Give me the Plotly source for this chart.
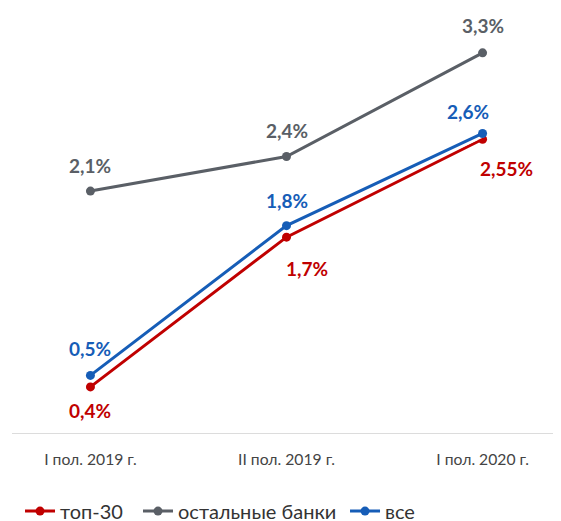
import plotly.graph_objects as go

categories = ["I пол. 2019 г.", "II пол. 2019 г.", "I пол. 2020 г."]
series_names = ["топ-30", "остальные банки", "все"]
top30 = [0.4, 1.7, 2.55]
others = [2.1, 2.4, 3.3]
all_banks = [0.5, 1.8, 2.6]

RED = "#c00000"
GRAY = "#5a5f66"
BLUE = "#165db7"
FONT = "Lato"

xs = list(range(len(categories)))


def fmt(v):
    return f"{v:g}".replace(".", ",") + "%"


fig = go.Figure()

# gray series
fig.add_trace(go.Scatter(x=xs, y=others, mode="lines+markers", name=series_names[1],
                         line=dict(color=GRAY, width=3), marker=dict(size=9, color=GRAY),
                         legend="legend2", hoverinfo="skip"))
# red with white halo
fig.add_trace(go.Scatter(x=xs, y=top30, mode="lines", showlegend=False,
                         line=dict(color="white", width=8), hoverinfo="skip"))
fig.add_trace(go.Scatter(x=xs, y=top30, mode="lines+markers", name=series_names[0],
                         line=dict(color=RED, width=3), marker=dict(size=9, color=RED),
                         legend="legend", hoverinfo="skip"))
# blue with white halo
fig.add_trace(go.Scatter(x=xs, y=all_banks, mode="lines", showlegend=False,
                         line=dict(color="white", width=8), hoverinfo="skip"))
fig.add_trace(go.Scatter(x=xs, y=all_banks, mode="lines+markers", name=series_names[2],
                         line=dict(color=BLUE, width=3), marker=dict(size=9, color=BLUE),
                         legend="legend3", hoverinfo="skip"))

# data labels
gray_shift = [(0, 26), (0, 26), (0, 27)]
blue_shift = [(0, 27), (0, 25), (-15, 22)]
red_shift = [(0, -24), (20, -31), (24, -29)]
for vals, color, shifts in [(others, GRAY, gray_shift), (all_banks, BLUE, blue_shift),
                            (top30, RED, red_shift)]:
    for i, v in enumerate(vals):
        fig.add_annotation(x=xs[i], y=v, text="<b>" + fmt(v) + "</b>", showarrow=False,
                           xref="x", yref="y", xshift=shifts[i][0], yshift=shifts[i][1],
                           font=dict(family=FONT, size=19, color=color))

leg_common = dict(orientation="h", xanchor="left", y=-0.189, yanchor="middle",
                  font=dict(family=FONT, size=20, color="#333333"), itemwidth=30,
                  bgcolor="rgba(0,0,0,0)")

fig.update_layout(
    width=553, height=513,
    margin=dict(l=4, r=0, t=12, b=88, autoexpand=False),
    paper_bgcolor="white", plot_bgcolor="white",
    showlegend=True,
    legend=dict(x=0.0146, **leg_common),
    legend2=dict(x=0.2295, **leg_common),
    legend3=dict(x=0.6066, **leg_common),
    xaxis=dict(tickmode="array", tickvals=xs, ticktext=categories, range=[-0.4, 2.4],
               showgrid=False, zeroline=False, showline=True, linecolor="#dcdcdc", linewidth=1,
               ticks="", tickfont=dict(family=FONT, size=15.7, color="#444444"),
               ticklabelstandoff=12),
    yaxis=dict(range=[0, 3.585], visible=False, showgrid=False, zeroline=False),
)

fig.write_html("out.html")
